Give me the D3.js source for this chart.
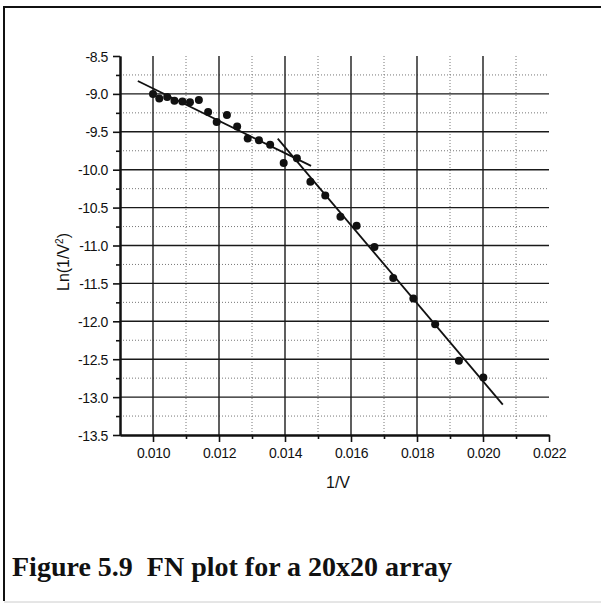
<!DOCTYPE html>
<html>
<head>
<meta charset="utf-8">
<script src="https://cdn.jsdelivr.net/npm/d3@7"></script>
<style>
  html, body { margin: 0; padding: 0; background: #fff; }
  svg { display: block; }
</style>
</head>
<body>
<svg id="chart" width="601" height="607"></svg>
<script>
// Fowler-Nordheim data: 1/V against ln(I/V^2)
const invV = [0.01000, 0.01019, 0.01043, 0.01065, 0.01089, 0.01112, 0.01139, 0.01167,
              0.01193, 0.01224, 0.01255, 0.01287, 0.01321, 0.01355, 0.01396, 0.01436,
              0.01477, 0.01522, 0.01568, 0.01617, 0.01671, 0.01728, 0.01789, 0.01855,
              0.01927, 0.02001];
const lnIV2 = [-9.00, -9.06, -9.04, -9.09, -9.10, -9.11, -9.08, -9.24,
               -9.37, -9.28, -9.43, -9.59, -9.61, -9.67, -9.91, -9.85,
               -10.16, -10.34, -10.62, -10.74, -11.02, -11.43, -11.70, -12.04,
               -12.52, -12.74];

// Linear fits for the low-field and high-field regions (end points)
const lowFitX = [0.00954, 0.01479];
const lowFitY = [-8.83, -9.95];
const highFitX = [0.01378, 0.02060];
const highFitY = [-9.59, -13.10];

// Tick values
const xMajor = [0.010, 0.012, 0.014, 0.016, 0.018, 0.020, 0.022];
const xMinor = [0.011, 0.013, 0.015, 0.017, 0.019, 0.021];
const yMajor = [-8.5, -9.0, -9.5, -10.0, -10.5, -11.0, -11.5, -12.0, -12.5, -13.0, -13.5];
const yMinor = [-8.75, -9.25, -9.75, -10.25, -10.75, -11.25, -11.75, -12.25, -12.75, -13.25];

const xLabel = "1/V";
const caption = "Figure 5.9  FN plot for a 20x20 array";

const svg = d3.select("#chart");

// Page frame (top and left rules, faint bottom rule)
svg.append("line").attr("x1", 4).attr("x2", 601).attr("y1", 7).attr("y2", 7)
  .attr("stroke", "#111").attr("stroke-width", 2);
svg.append("line").attr("x1", 4).attr("x2", 4).attr("y1", 6).attr("y2", 601)
  .attr("stroke", "#111").attr("stroke-width", 2);
svg.append("line").attr("x1", 4).attr("x2", 601).attr("y1", 602).attr("y2", 602)
  .attr("stroke", "#ccc").attr("stroke-width", 1);

const x = d3.scaleLinear().domain([0.009, 0.022]).range([120, 549]);
const y = d3.scaleLinear().domain([-13.5, -8.5]).range([435, 56]);

const plotLeft = x.range()[0], plotRight = x.range()[1];
const plotTop = y.range()[1], plotBottom = y.range()[0];

const grid = svg.append("g");
// minor dotted grid
grid.selectAll(".gxm").data(xMinor).enter().append("line")
  .attr("x1", d => x(d)).attr("x2", d => x(d)).attr("y1", plotTop).attr("y2", plotBottom)
  .attr("stroke", "#777").attr("stroke-width", 1).attr("stroke-dasharray", "1,2");
grid.selectAll(".gym").data(yMinor).enter().append("line")
  .attr("x1", plotLeft).attr("x2", plotRight).attr("y1", d => y(d)).attr("y2", d => y(d))
  .attr("stroke", "#777").attr("stroke-width", 1).attr("stroke-dasharray", "1,2");
// major solid grid
grid.selectAll(".gx").data(xMajor.filter(v => v < 0.022)).enter().append("line")
  .attr("x1", d => x(d)).attr("x2", d => x(d)).attr("y1", plotTop).attr("y2", plotBottom)
  .attr("stroke", "#1a1a1a").attr("stroke-width", 1.4);
grid.selectAll(".gy").data(yMajor.filter(v => v > -13.5 && v < -8.5)).enter().append("line")
  .attr("x1", plotLeft).attr("x2", plotRight).attr("y1", d => y(d)).attr("y2", d => y(d))
  .attr("stroke", "#1a1a1a").attr("stroke-width", 1.4);

// Axes (labels use a plain hyphen for the minus sign)
const fmtX = d => d.toFixed(3);
const fmtY = d => d.toFixed(1);

const xAxis = svg.append("g").attr("transform", `translate(0,${plotBottom})`)
  .call(d3.axisBottom(x).tickValues(xMajor).tickSize(7).tickSizeOuter(0).tickFormat(fmtX));
const xAxisMinor = svg.append("g").attr("transform", `translate(0,${plotBottom})`)
  .call(d3.axisBottom(x).tickValues(xMinor).tickSize(4).tickSizeOuter(0).tickFormat(""));
const yAxis = svg.append("g").attr("transform", `translate(${plotLeft},0)`)
  .call(d3.axisLeft(y).tickValues(yMajor).tickSize(7).tickSizeOuter(0).tickFormat(fmtY));
const yAxisMinor = svg.append("g").attr("transform", `translate(${plotLeft},0)`)
  .call(d3.axisLeft(y).tickValues(yMinor).tickSize(4).tickSizeOuter(0).tickFormat(""));

[xAxis, xAxisMinor, yAxis, yAxisMinor].forEach(g => {
  g.attr("font-size", 14).attr("font-family", "'Liberation Sans', Arial, sans-serif");
  g.select(".domain").attr("stroke", "#111").attr("stroke-width", 2);
  g.selectAll(".tick line").attr("stroke", "#111").attr("stroke-width", 1.6);
  g.selectAll(".tick text").attr("fill", "#111").attr("letter-spacing", -0.4);
});
xAxis.selectAll(".tick text").attr("dy", null).attr("y", 23);
yAxis.selectAll(".tick text").attr("x", -12).attr("dy", "0.36em");

// Axis titles
const yTitle = svg.append("text")
  .attr("transform", `translate(69,262) rotate(-90)`)
  .attr("text-anchor", "middle")
  .attr("font-family", "'Liberation Sans', Arial, sans-serif")
  .attr("font-size", 16).attr("fill", "#111");
yTitle.append("tspan").text("Ln(1/V");
yTitle.append("tspan").attr("font-size", 10).attr("dy", -6).text("2");
yTitle.append("tspan").attr("dy", 6).text(")");

svg.append("text")
  .attr("x", 338).attr("y", 488)
  .attr("text-anchor", "middle")
  .attr("font-family", "'Liberation Sans', Arial, sans-serif")
  .attr("font-size", 16).attr("fill", "#111")
  .text(xLabel);

// Fit lines
const line = d3.line().x(d => x(d[0])).y(d => y(d[1]));
svg.append("path").datum(d3.zip(lowFitX, lowFitY)).attr("d", line)
  .attr("fill", "none").attr("stroke", "#111").attr("stroke-width", 1.8);
svg.append("path").datum(d3.zip(highFitX, highFitY)).attr("d", line)
  .attr("fill", "none").attr("stroke", "#111").attr("stroke-width", 1.8);

// Data points
svg.append("g").selectAll("circle").data(d3.zip(invV, lnIV2)).enter().append("circle")
  .attr("cx", d => x(d[0])).attr("cy", d => y(d[1])).attr("r", 4)
  .attr("fill", "#111");

// Caption
svg.append("text")
  .attr("x", 12).attr("y", 576)
  .attr("font-family", "'Liberation Serif', 'Times New Roman', serif")
  .attr("font-weight", "bold")
  .attr("font-size", 28).attr("fill", "#111")
  .style("white-space", "pre")
  .text(caption);
</script>
</body>
</html>
